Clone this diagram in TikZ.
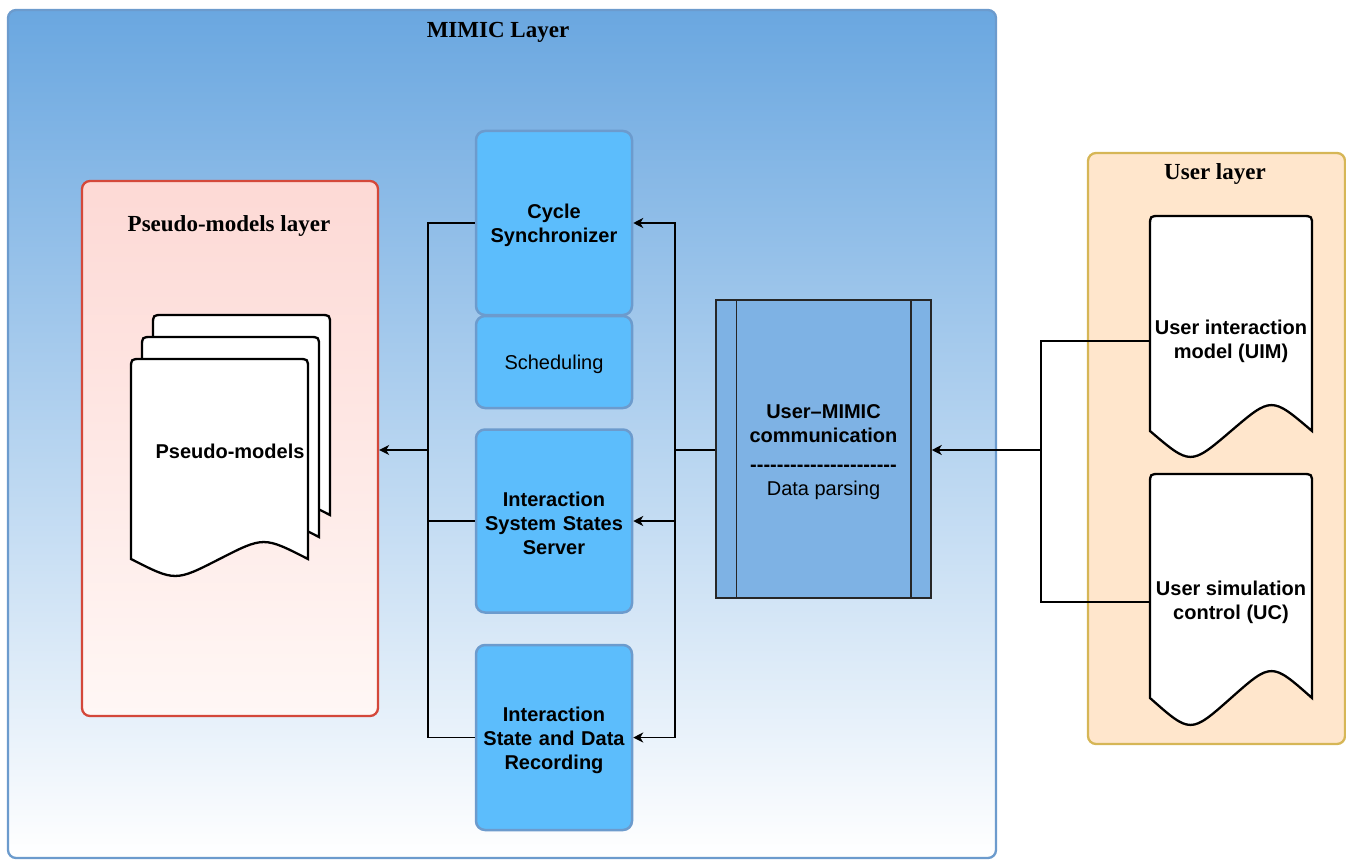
\documentclass[tikz,border=0pt]{standalone}
\usepackage{fontspec}
\setmainfont{Liberation Serif}
\setsansfont{Liberation Sans}
\usepackage{tikz}
\usetikzlibrary{shapes.geometric, arrows.meta}
\definecolor{mimictop}{RGB}{106,167,224}
\definecolor{mimicline}{RGB}{108,155,205}
\definecolor{pinktop}{RGB}{253,217,213}
\definecolor{pinkbot}{RGB}{255,247,245}
\definecolor{pinkline}{RGB}{212,72,58}
\definecolor{boxfill}{RGB}{92,189,252}
\definecolor{umcfill}{RGB}{126,178,228}
\definecolor{userfill}{RGB}{255,230,204}
\definecolor{userline}{RGB}{214,182,86}
\tikzstyle{arrow} = [line width=1.3pt,-{Stealth[length=10pt,width=10pt,inset=3pt]}]
\tikzstyle{line} = [line width=1.3pt]
\tikzstyle{layer} = [line width=2.3pt, rounded corners=8pt, inner sep=0pt]
\tikzstyle{title} = [font=\rmfamily\bfseries\fontsize{23}{27}\selectfont]
\tikzstyle{box} = [draw=mimicline, line width=2.5pt, fill=boxfill, rounded corners=9pt, minimum width=156pt, text width=150pt, align=center, inner sep=0pt, font=\sffamily\bfseries\fontsize{20}{24}\selectfont, execute at begin node={\rule{0pt}{20pt}}]
\tikzstyle{doctext} = [font=\sffamily\bfseries\fontsize{20}{24}\selectfont, align=center, minimum width=162pt, inner sep=0pt]
\newcommand{\docshape}[5]{\draw[line width=2.3pt, fill=white] (#1,#4) -- (#1,#2+10) .. controls (#1,#2) .. (#1+10,#2) -- (#1+#3-10,#2) .. controls (#1+#3,#2) .. (#1+#3,#2+10) -- (#1+#3,#4) .. controls (#1+0.75*#3,#4-1.33*#5) .. (#1+0.5*#3,#4) .. controls (#1+0.25*#3,#4+1.33*#5) .. (#1,#4) -- cycle;}

\begin{document}
\begin{tikzpicture}[x=1pt, y=-1pt]
		\useasboundingbox (0,0) rectangle (1346,861);
		\node[layer, draw=mimicline, top color=mimictop, bottom color=white, minimum width=988pt, minimum height=848pt] (mimic) at (502,434) {};
		\node[title] (mimictitle) at (498,32) {MIMIC Layer};
		\node[layer, draw=pinkline, top color=pinktop, bottom color=pinkbot, minimum width=296pt, minimum height=535pt] (pml) at (230,448.5) {};
		\node[title] (pmltitle) at (229,226) {Pseudo-models layer};
		\node[layer, draw=userline, fill=userfill, minimum width=257pt, minimum height=591pt] (ul) at (1216.5,448.5) {};
		\node[title] (ultitle) at (1215,174) {User layer};
		\docshape{153}{315}{177}{515}{17}
		\docshape{142}{337}{177}{537}{17}
		\docshape{131}{359}{177}{559}{17}
		\node[doctext] (pm) at (230,451) {Pseudo-models};
		\docshape{1150}{216}{162}{431}{26}
		\node[doctext] (uim) at (1231,341) {User interaction\\model (UIM)};
		\docshape{1150}{474}{162}{698}{27}
		\node[doctext] (uc) at (1231,602) {User simulation\\control (UC)};
		\node[box, minimum height=184pt] (cs) at (554,223) {Cycle\\Synchronizer};
		\node[box, minimum height=92pt, font=\sffamily\fontsize{20}{24}\selectfont] (sch) at (554,362) {Scheduling};
		\node[box, minimum height=183pt] (isss) at (554,521) {Interaction\\System States\\Server};
		\node[box, minimum height=185pt] (rec) at (554,737.5) {Interaction\\State and Data\\Recording};
		\node[draw=black!85, line width=1.5pt, fill=umcfill, minimum width=215pt, minimum height=298pt, inner sep=0pt, align=center, font=\sffamily\fontsize{20}{24}\selectfont] (umc) at (823.5,449) {\rule{0pt}{20pt}\textbf{User–MIMIC}\\\textbf{communication}\\\rule{0pt}{28pt}\textbf{-{}-{}-{}-{}-{}-{}-{}-{}-{}-{}-{}-{}-{}-{}-{}-{}-{}-{}-{}-{}-{}-}\\Data parsing};
		\draw[line width=1.5pt, black!85] ([xshift=21pt]umc.north west) -- ([xshift=21pt]umc.south west);
		\draw[line width=1.5pt, black!85] ([xshift=-21pt]umc.north east) -- ([xshift=-21pt]umc.south east);
		\coordinate (jl) at (428,450);
		\coordinate (jr) at (675,450);
		\coordinate (ju) at (1041,450);
		\draw[line] (cs.west) -| (jl) |- (rec.west);
		\draw[line] (isss.west) -- (isss.west -| jl);
		\draw[arrow] (jl) -- (pml.east |- jl);
		\draw[line] (umc.west |- jr) -- (jr);
		\draw[arrow] (jr) |- (cs.east);
		\draw[arrow] (jr) |- (rec.east);
		\draw[arrow] (isss.east -| jr) -- (isss.east);
		\draw[line] (uim.west) -| (ju) |- (uc.west);
		\draw[arrow] (ju) -- (umc.east |- ju);
	\end{tikzpicture}
\end{document}
